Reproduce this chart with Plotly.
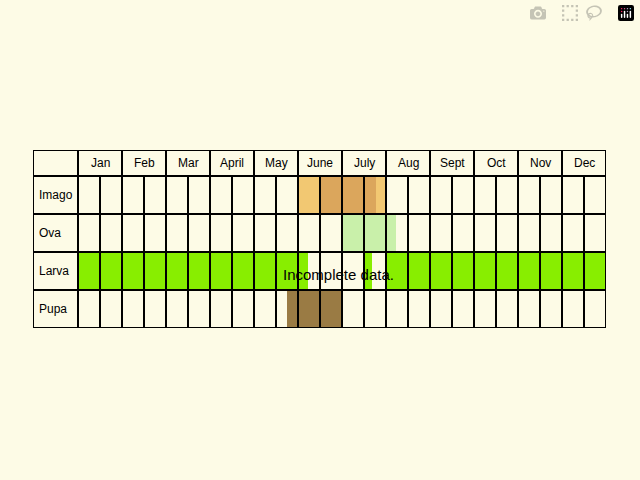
import plotly.graph_objects as go

months = ["Jan", "Feb", "Mar", "April", "May", "June", "July", "Aug", "Sept", "Oct", "Nov", "Dec"]
stages = ["Imago", "Ova", "Larva", "Pupa"]

# periods in month units (0 = 1 Jan, 12 = 31 Dec)
bar_stage = ["Imago", "Imago", "Imago", "Ova", "Larva", "Larva", "Larva", "Pupa"]
bar_start = [5.0, 5.5, 6.77, 6.0, 0.0, 6.52, 7.0, 4.75]
bar_end = [5.5, 6.77, 7.0, 7.23, 5.23, 6.68, 12.0, 6.0]
bar_color = ["#f2c872", "#dba65c", "#f2c872", "#c9f0aa", "#88ee00", "#88ee00", "#88ee00", "#9a7b44"]

# row centre for each stage (Imago on top)
row_y = {s: 3.5 - i for i, s in enumerate(stages)}
HEAD = 26 / 38
LEFT = -45 / 44

fig = go.Figure()
fig.add_trace(go.Bar(
    y=[row_y[s] for s in bar_stage],
    x=[e - s for s, e in zip(bar_start, bar_end)],
    base=bar_start,
    orientation="h",
    width=1,
    marker=dict(color=bar_color, line=dict(width=0)),
    showlegend=False,
    hoverinfo="skip",
))

line = dict(color="black", width=2)
shapes = []
# horizontal lines
for yy in [0, 1, 2, 3, 4, 4 + HEAD]:
    shapes.append(dict(type="line", x0=LEFT, x1=12, y0=yy, y1=yy, line=line))
# label column and month lines
for xx in [LEFT] + list(range(13)):
    shapes.append(dict(type="line", x0=xx, x1=xx, y0=0, y1=4 + HEAD, line=line))
# half-month lines in stage rows
for m in range(12):
    shapes.append(dict(type="line", x0=m + 0.5, x1=m + 0.5, y0=0, y1=4, line=line))

ann = []
for i, m in enumerate(months):
    ann.append(dict(x=i + 0.5, y=4 + HEAD / 2, text=m, showarrow=False))
for s in stages:
    ann.append(dict(x=LEFT + 0.08, y=row_y[s], text=s, showarrow=False, xanchor="left"))
ann.append(dict(x=341 / 640, y=1 - 363 / 480, xref="paper", yref="paper",
                text="Incomplete data.", showarrow=False, font=dict(size=15)))

fig.update_layout(
    width=640, height=480,
    margin=dict(l=33, r=34, t=150, b=152),
    paper_bgcolor="#fdfbe6", plot_bgcolor="#fdfbe6",
    font=dict(family="Liberation Sans, Arial", size=12, color="black"),
    xaxis=dict(range=[LEFT, 12], visible=False, fixedrange=True),
    yaxis=dict(range=[0, 4 + HEAD], visible=False, fixedrange=True),
    shapes=shapes, annotations=ann, bargap=0,
)
fig.write_html("out.html", post_script="document.body.style.margin='0';")
